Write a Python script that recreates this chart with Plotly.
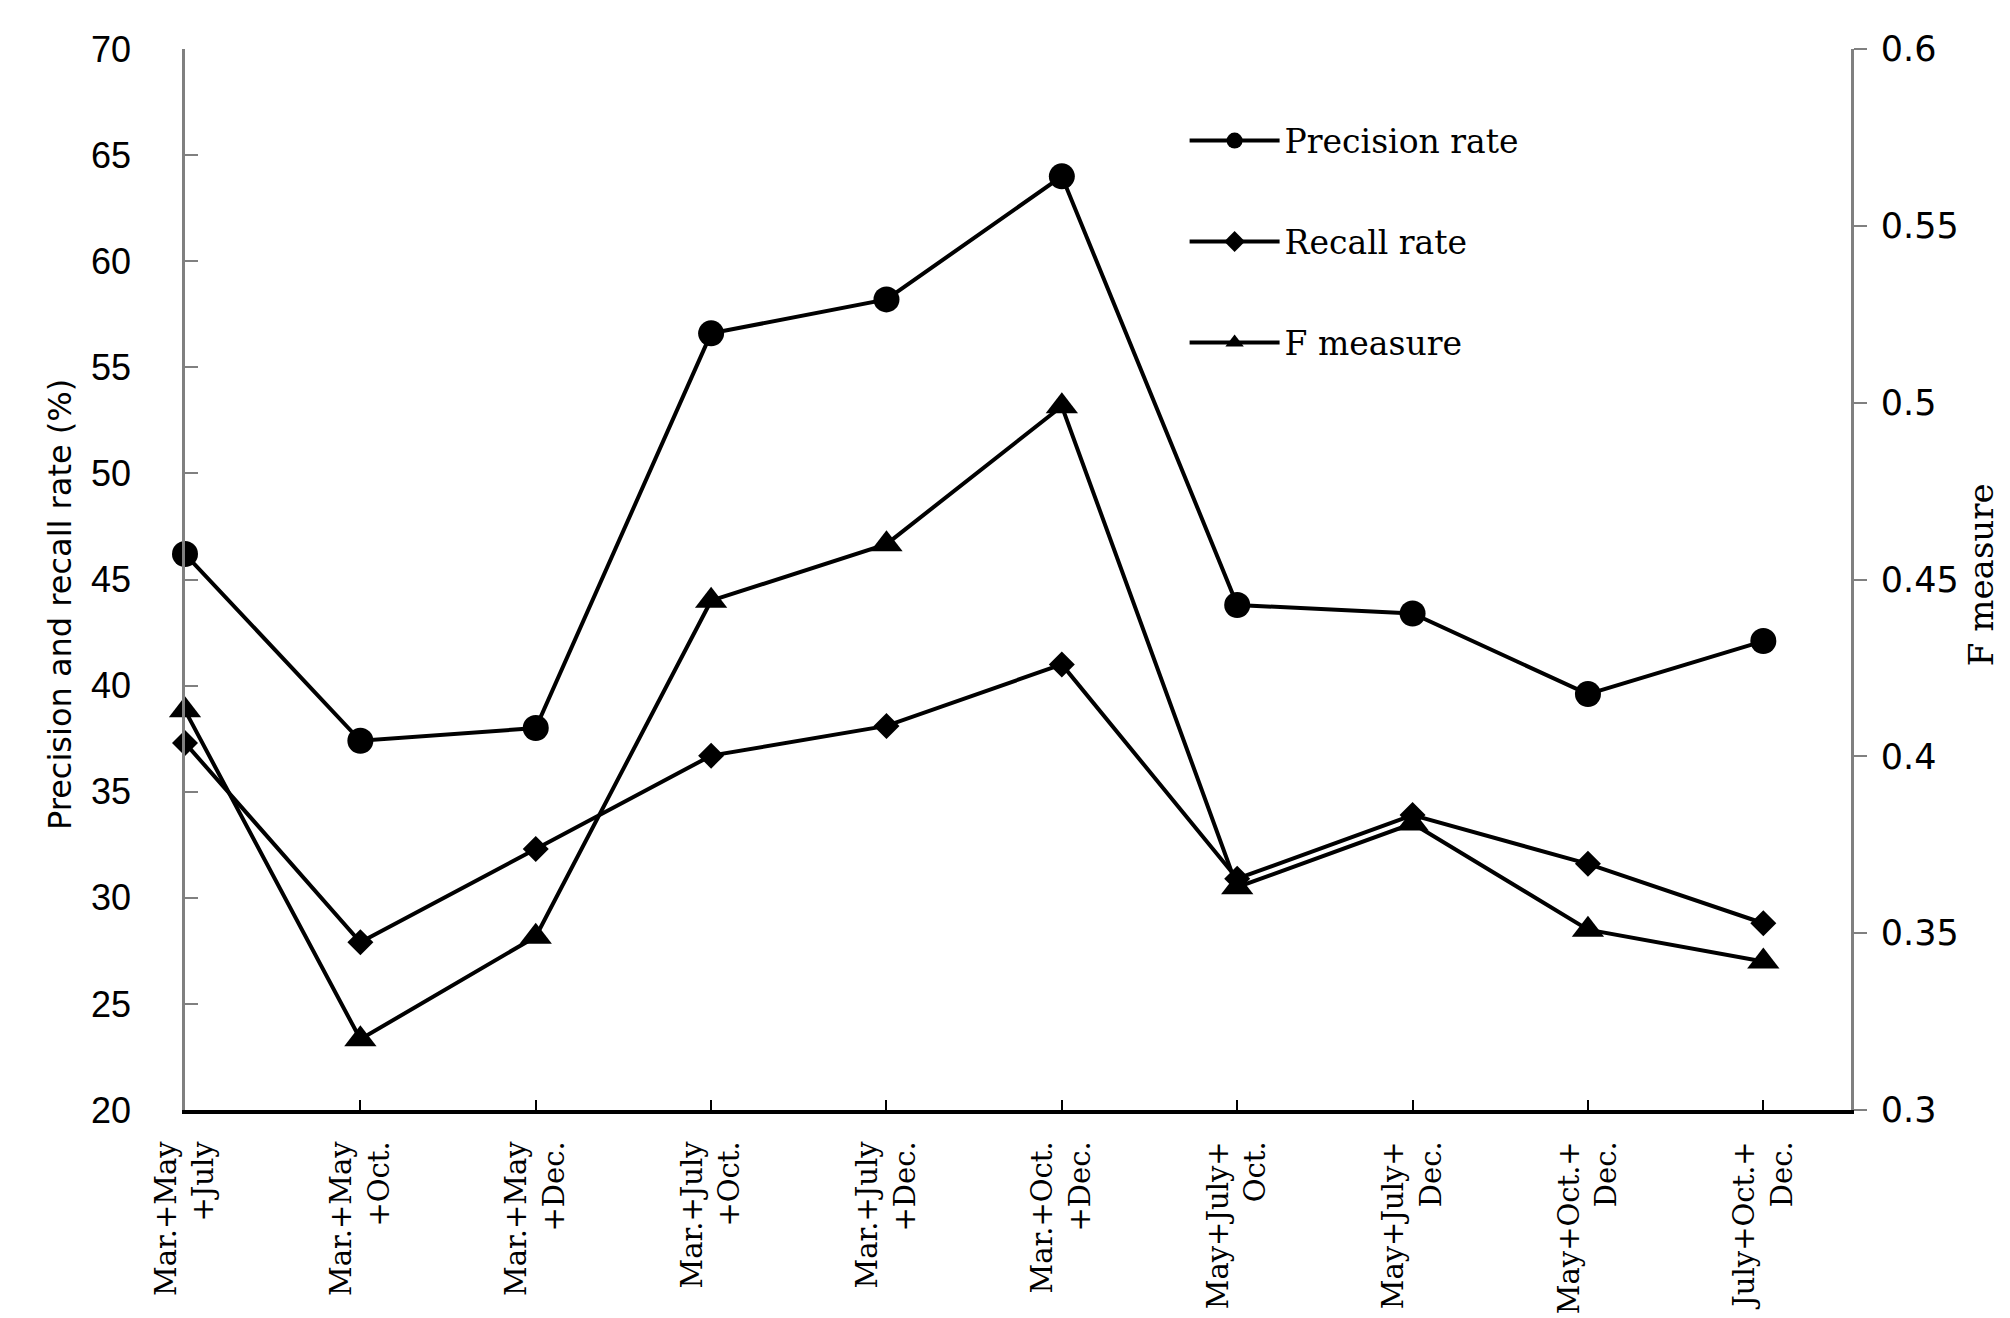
import plotly.graph_objects as go

categories = ["Mar.+May<br>+July", "Mar.+May<br>+Oct.", "Mar.+May<br>+Dec.",
              "Mar.+July<br>+Oct.", "Mar.+July<br>+Dec.", "Mar.+Oct.<br>+Dec.",
              "May+July+<br>Oct.", "May+July+<br>Dec.", "May+Oct.+<br>Dec.",
              "July+Oct.+<br>Dec."]
precision = [46.2, 37.4, 38.0, 56.6, 58.2, 64.0, 43.8, 43.4, 39.6, 42.1]
recall = [37.3, 27.9, 32.3, 36.7, 38.1, 41.0, 30.9, 33.9, 31.6, 28.8]
fmeasure = [0.413, 0.320, 0.349, 0.444, 0.460, 0.499, 0.363, 0.381, 0.351, 0.342]
left_ticks = [20, 25, 30, 35, 40, 45, 50, 55, 60, 65, 70]
right_ticks = [0.3, 0.35, 0.4, 0.45, 0.5, 0.55, 0.6]

xpos = list(range(len(categories)))

fig = go.Figure()
fig.add_trace(go.Scatter(x=xpos, y=precision, name="Precision rate", mode="lines+markers",
                         line=dict(color="black", width=4),
                         marker=dict(symbol="circle", size=26, color="black"),
                         cliponaxis=False, legendgroup="a"))
fig.add_trace(go.Scatter(x=xpos, y=recall, name="Recall rate", mode="lines+markers",
                         line=dict(color="black", width=4),
                         marker=dict(symbol="diamond", size=20, color="black"),
                         cliponaxis=False, legendgroup="b"))
fig.add_trace(go.Scatter(x=xpos, y=fmeasure, name="F measure", mode="lines+markers",
                         line=dict(color="black", width=4),
                         marker=dict(symbol="triangle-up", size=28, color="black"),
                         cliponaxis=False, legendgroup="c", yaxis="y2"))

fig.update_layout(
    width=2010, height=1318,
    margin=dict(l=177, r=167, t=41, b=200),
    paper_bgcolor="white", plot_bgcolor="white",
    showlegend=True,
    legend=dict(x=0.60, y=0.94, xanchor="left", yanchor="top",
                font=dict(family="DejaVu Serif", size=33, color="black"),
                itemwidth=90,
                tracegroupgap=55, bgcolor="rgba(0,0,0,0)"),
    xaxis=dict(range=[0, 9.5], tickmode="array", tickvals=xpos, ticktext=categories,
               tickangle=-90, ticks="inside", ticklen=10, tickwidth=2, tickcolor="black",
               showline=True, linecolor="black", linewidth=3.5, showgrid=False, zeroline=False,
               tickfont=dict(family="DejaVu Serif", size=29, color="black"),
               ticklabelstandoff=16),
    yaxis=dict(range=[20, 70], tickmode="array", tickvals=left_ticks,
               ticks="inside", ticklen=13, tickwidth=2, tickcolor="#808080",
               showline=True, linecolor="#808080", linewidth=2.5, showgrid=False, zeroline=False,
               tickfont=dict(family="Liberation Sans", size=36, color="black"),
               ticklabelstandoff=44),
    yaxis2=dict(range=[0.3, 0.6], tickmode="array", tickvals=right_ticks,
                overlaying="y", side="right", anchor="x",
                ticks="outside", ticklen=13, tickwidth=2, tickcolor="#808080",
                showline=True, linecolor="#808080", linewidth=2.5, showgrid=False, zeroline=False,
                tickfont=dict(family="DejaVu Sans", size=35, color="black"),
                ticklabelstandoff=7),
    annotations=[
        dict(text="Precision and recall rate (%)", xref="paper", yref="paper",
             x=-0.075, y=0.476, textangle=-90, showarrow=False,
             xanchor="center", yanchor="middle",
             font=dict(family="DejaVu Sans", size=32, color="black")),
        dict(text="F measure", xref="paper", yref="paper",
             x=1.078, y=0.505, textangle=-90, showarrow=False,
             xanchor="center", yanchor="middle",
             font=dict(family="DejaVu Serif", size=34, color="black")),
    ],
)

fig.write_html("out.html")
